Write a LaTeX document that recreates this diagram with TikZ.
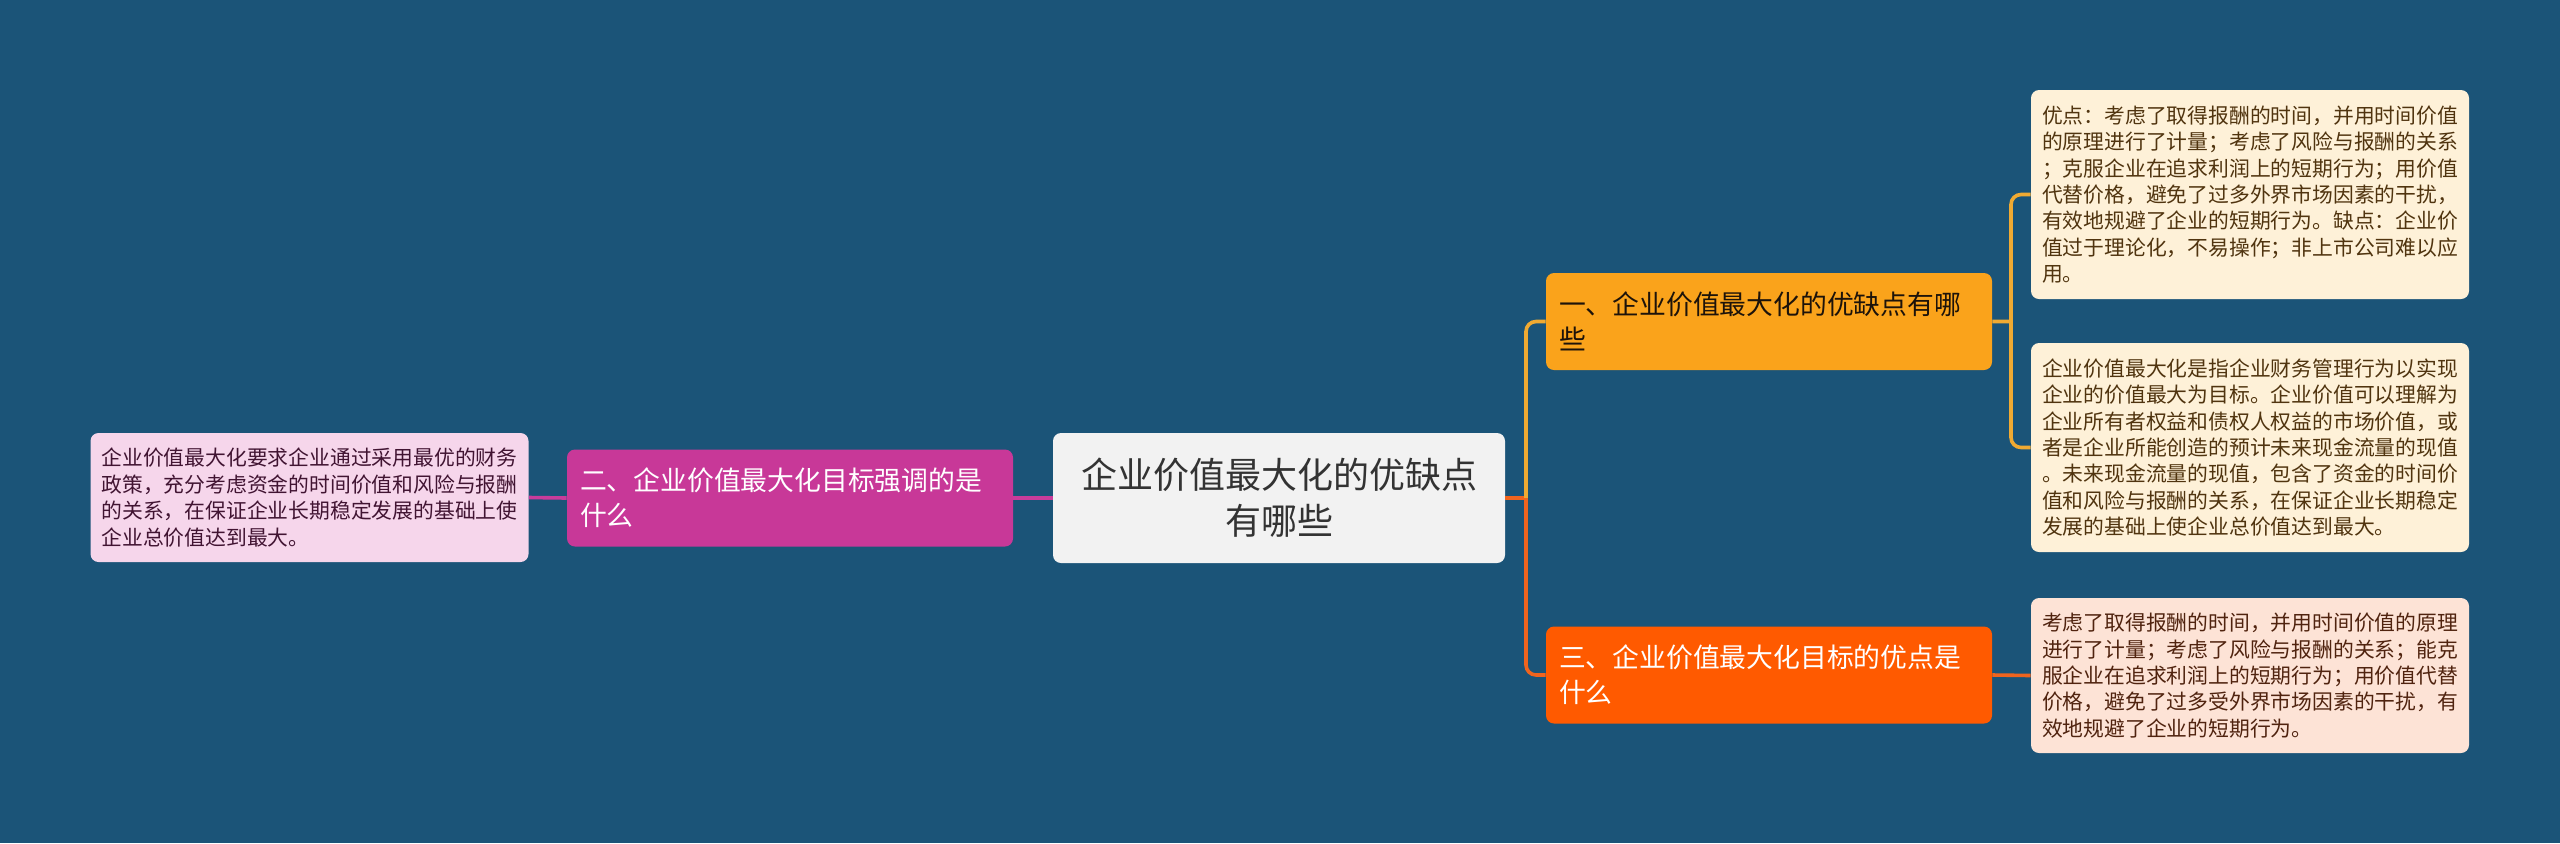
\documentclass[tikz,border=0pt]{standalone}
\usepackage{fontspec}
\usepackage{tikz}
\newfontfamily\cjk{Noto Sans CJK SC}
\definecolor{bg}{RGB}{27,84,120}
\definecolor{rootfill}{RGB}{242,242,242}
\definecolor{onefill}{RGB}{250,163,27}
\definecolor{twofill}{RGB}{200,56,152}
\definecolor{threefill}{RGB}{255,90,0}
\definecolor{creamfill}{RGB}{254,241,216}
\definecolor{peachfill}{RGB}{253,227,214}
\definecolor{pinkfill}{RGB}{246,214,235}
\definecolor{creamtext}{RGB}{80,52,15}
\definecolor{peachtext}{RGB}{80,35,15}
\definecolor{pinktext}{RGB}{65,20,50}
\definecolor{yellowline}{RGB}{240,170,50}
\definecolor{orangeline}{RGB}{240,100,30}
\definecolor{magentaline}{RGB}{200,60,155}

\begin{document}
\begin{tikzpicture}[x=0.5pt,y=-0.5pt,
        box/.style={rounded corners=4pt, inner ysep=0pt, anchor=center},
        rootbox/.style={box, fill=rootfill, text=black!80, inner xsep=13pt, text width=200pt,
            minimum height=65pt, align=center, font=\cjk\fontsize{18}{23}\selectfont},
        branch/.style={box, inner xsep=6.5pt, text width=210pt, minimum height=48.5pt,
            align=left, font=\cjk\fontsize{13.4}{17.5}\selectfont},
        leaf/.style={box, inner xsep=5.5pt, text width=208pt, minimum height=#1,
            align=left, font=\cjk\fontsize{10.4}{13.2}\selectfont},
        link/.style={line width=1.8pt, rounded corners=5pt}]
        \fill[bg] (0,0) rectangle (2560,843);

        \node[rootbox] (root) at (1279,498) {企业价值最大化的优缺点\\有哪些};
        \node[branch, fill=onefill, text=black!85!brown] (one) at (1769,321.5) {一、企业价值最大化的优缺点有哪\\些};
        \node[branch, fill=threefill, text=white] (three) at (1769,675) {三、企业价值最大化目标的优点是\\什么};
        \node[branch, fill=twofill, text=white] (two) at (790,498) {二、企业价值最大化目标强调的是\\什么};

        \node[leaf=104.5pt, fill=creamfill, text=creamtext] (pros) at (2250,194.5)
            {优点：考虑了取得报酬的时间，并用时间价值\\的原理进行了计量；考虑了风险与报酬的关系\\；克服企业在追求利润上的短期行为；用价值\\代替价格，避免了过多外界市场因素的干扰，\\有效地规避了企业的短期行为。缺点：企业价\\值过于理论化，不易操作；非上市公司难以应\\用。};
        \node[leaf=104.5pt, fill=creamfill, text=creamtext] (meaning) at (2250,447.5)
            {企业价值最大化是指企业财务管理行为以实现\\企业的价值最大为目标。企业价值可以理解为\\企业所有者权益和债权人权益的市场价值，或\\者是企业所能创造的预计未来现金流量的现值\\。未来现金流量的现值，包含了资金的时间价\\值和风险与报酬的关系，在保证企业长期稳定\\发展的基础上使企业总价值达到最大。};
        \node[leaf=77.5pt, fill=peachfill, text=peachtext] (merit) at (2250,675.5)
            {考虑了取得报酬的时间，并用时间价值的原理\\进行了计量；考虑了风险与报酬的关系；能克\\服企业在追求利润上的短期行为；用价值代替\\价格，避免了过多受外界市场因素的干扰，有\\效地规避了企业的短期行为。};
        \node[leaf=64.5pt, fill=pinkfill, text=pinktext] (aim) at (309.5,497.5)
            {企业价值最大化要求企业通过采用最优的财务\\政策，充分考虑资金的时间价值和风险与报酬\\的关系，在保证企业长期稳定发展的基础上使\\企业总价值达到最大。};

        \coordinate (rootjoin) at (1526,498);
        \coordinate (onejoin) at (2011,321.5);

        \draw[link, orangeline] (root.east) -- (rootjoin);
        \draw[link, yellowline] (rootjoin) |- (one.west);
        \draw[link, orangeline] (rootjoin) |- (three.west);
        \draw[link, magentaline] (root.west) -- (two.east);
        \draw[link, magentaline] (two.west) -- (aim.east);
        \draw[link, yellowline] (one.east) -- (onejoin) (onejoin) |- (pros.west) (onejoin) |- (meaning.west);
        \draw[link, orangeline] (three.east) -- (merit.west);
\end{tikzpicture}
\end{document}
